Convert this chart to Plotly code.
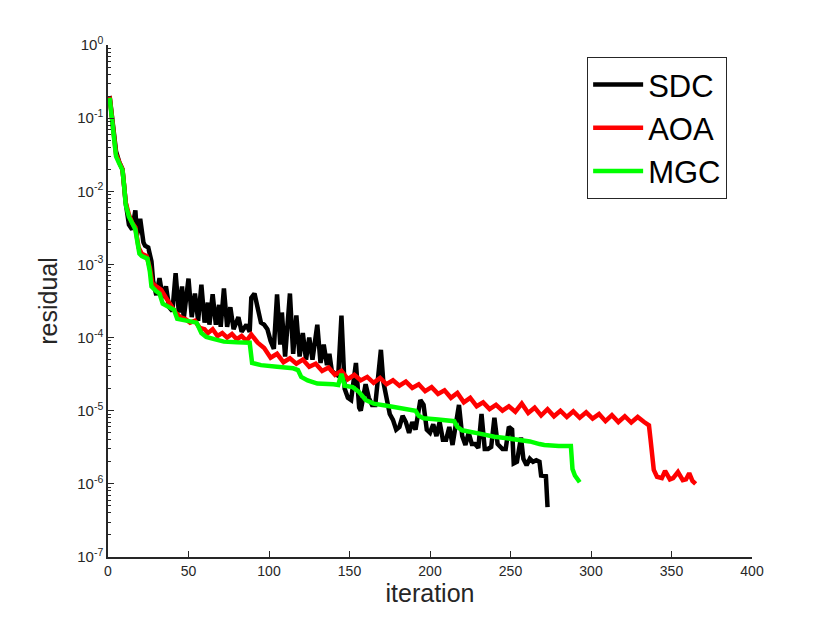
import plotly.graph_objects as go

# SDC: iteration / residual
sdc_iter = [1, 3, 5, 7, 9, 11, 13, 15, 17, 18, 20, 22, 23, 25, 27, 28, 30, 32, 34, 36,
            38, 40, 42, 44, 46, 47, 50, 52, 54, 56, 58, 60, 62, 63, 65, 67, 69, 70, 72, 74,
            76, 78, 81, 83, 86, 88, 89, 91, 93, 95, 97, 99, 101, 103, 105, 107, 108, 110, 113, 115,
            117, 119, 121, 123, 125, 127, 130, 132, 134, 136, 137.5, 139, 141, 143, 145, 147, 149, 151, 154, 156,
            157, 160, 162, 164, 166, 168, 169.5, 171, 173, 175, 177, 179, 181, 183, 185, 187, 189, 191, 194, 196,
            198, 200, 202, 204, 206, 208, 210, 212, 214, 216, 218, 220, 222, 224, 226, 228, 230, 232, 234, 236,
            238, 240, 242, 245, 247, 249, 251, 252, 254, 256.5, 258, 260, 262, 264, 266, 268, 269, 272, 273]
sdc_res = [0.2, 0.08, 0.035, 0.025, 0.02, 0.007, 0.0035, 0.003, 0.0055, 0.0025, 0.0042, 0.002, 0.0018, 0.0017, 0.0011, 6e-4, 3.8e-4, 6.5e-4, 3.5e-4, 5e-4,
           2.6e-4, 2.3e-4, 7.6e-4, 2.2e-4, 5e-4, 1.8e-4, 6.4e-4, 1.9e-4, 4e-4, 1.7e-4, 5.3e-4, 1.6e-4, 3e-4, 1.5e-4, 3.9e-4, 1.5e-4, 2.8e-4, 1.4e-4, 4.7e-4, 1.4e-4,
           2.6e-4, 1.3e-4, 1.9e-4, 1.2e-4, 1.5e-4, 1.2e-4, 3.5e-4, 4.0e-4, 2.6e-4, 1.6e-4, 1.5e-4, 1.3e-4, 9e-5, 7e-5, 3.9e-4, 8e-5, 2.2e-4, 5.5e-5, 4e-4, 6e-5,
           2e-4, 5.5e-5, 1.15e-4, 5e-5, 1.0e-4, 5e-5, 1.5e-4, 4.5e-5, 8e-5, 4.2e-5, 6e-5, 3.5e-5, 3.2e-5, 3e-5, 2.0e-4, 2e-5, 1.5e-5, 1.4e-5, 4.5e-5, 1.1e-5,
           1.0e-5, 2.3e-5, 1.5e-5, 1.2e-5, 1.2e-5, 3e-5, 6.8e-5, 2.5e-5, 1.6e-5, 9e-6, 7.5e-6, 5.5e-6, 6e-6, 8.5e-6, 7e-6, 5e-6, 7e-6, 5.5e-6, 1.4e-5, 1.2e-5,
           5.5e-6, 5e-6, 6.5e-6, 4.5e-6, 7e-6, 4e-6, 4e-6, 6e-6, 3.4e-6, 6e-6, 1.2e-5, 4.5e-6, 3.4e-6, 5e-6, 3.5e-6, 3.5e-6, 3.1e-6, 9e-6, 3e-6, 3e-6,
           3.2e-6, 8e-6, 3.5e-6, 3.0e-6, 3e-6, 6e-6, 5.5e-6, 1.9e-6, 2e-6, 4.3e-6, 2.2e-6, 1.8e-6, 2.2e-6, 2.0e-6, 2.1e-6, 2.0e-6, 1.3e-6, 1.27e-6, 4.8e-7]

# AOA: iteration / residual
aoa_iter = [1, 3, 5, 7, 9, 10, 11, 13, 15, 17, 19, 21, 24, 26, 27.5, 30, 33, 36, 39, 42,
            45, 48, 51, 54, 57, 60, 62, 65, 68, 71, 74, 77, 80, 83, 86, 89, 93, 97, 101, 105,
            109, 113, 117, 121, 125, 129, 133, 137, 141, 145, 149, 153, 157, 161, 165, 169, 173, 177, 181, 185,
            189, 193, 197, 201, 205, 209, 213, 217, 221, 225, 229, 233, 237, 241, 245, 249, 253, 257, 261, 265,
            269, 273, 277, 281, 285, 289, 293, 297, 301, 305, 309, 313, 317, 321, 325, 329, 333, 336, 337, 338,
            339, 341, 344, 346, 349, 351, 354, 357, 359, 361, 363, 365]
aoa_res = [0.2, 0.075, 0.032, 0.025, 0.02, 0.012, 0.007, 0.0048, 0.0037, 0.0032, 0.0017, 0.0014, 0.0013, 9e-4, 5.5e-4, 5e-4, 4.5e-4, 3.5e-4, 2.8e-4, 2.2e-4,
           1.9e-4, 1.8e-4, 1.6e-4, 1.7e-4, 1.35e-4, 1.3e-4, 1.15e-4, 1.3e-4, 1.05e-4, 1.15e-4, 1.0e-4, 1.12e-4, 9.5e-5, 1.05e-4, 9e-5, 1.1e-4, 8.5e-5, 7.2e-5, 5.3e-5, 6.0e-5,
           4.6e-5, 5.2e-5, 4.4e-5, 5.0e-5, 4.0e-5, 4.4e-5, 3.5e-5, 3.9e-5, 3.1e-5, 3.5e-5, 2.7e-5, 3.1e-5, 2.6e-5, 2.9e-5, 2.4e-5, 2.8e-5, 2.3e-5, 2.6e-5, 2.2e-5, 2.5e-5,
           2.05e-5, 2.3e-5, 1.85e-5, 2.1e-5, 1.7e-5, 1.9e-5, 1.5e-5, 1.75e-5, 1.3e-5, 1.5e-5, 1.15e-5, 1.3e-5, 1.05e-5, 1.2e-5, 1.0e-5, 1.15e-5, 9.7e-6, 1.25e-5, 9.3e-6, 1.1e-5,
           8.6e-6, 1.05e-5, 8.4e-6, 1.0e-5, 8.2e-6, 9.8e-6, 8.0e-6, 9.5e-6, 7.8e-6, 9.0e-6, 7.2e-6, 8.7e-6, 7.0e-6, 8.4e-6, 6.9e-6, 8.2e-6, 7.0e-6, 6.3e-6, 4.0e-6, 2.5e-6,
           1.55e-6, 1.25e-6, 1.2e-6, 1.5e-6, 1.15e-6, 1.2e-6, 1.45e-6, 1.12e-6, 1.15e-6, 1.4e-6, 1.1e-6, 1.0e-6]

# MGC: iteration / residual
mgc_iter = [1, 3, 5, 7, 9, 10, 11, 13, 15, 17, 18, 19.5, 21, 24.5, 26, 27, 30, 32, 34, 38,
            41, 43, 48, 55, 58, 61, 66, 72, 80, 88, 89.5, 95, 105, 115, 118, 120, 124, 130, 140, 143,
            145, 147, 152, 156, 160, 165, 175, 185, 191, 193, 196, 205, 215, 217, 220, 230, 240, 248, 256, 262,
            268, 271, 280, 287.5, 288.5, 290, 293]
mgc_res = [0.19, 0.07, 0.03, 0.024, 0.0195, 0.012, 0.0065, 0.0045, 0.0036, 0.003, 0.0022, 0.0014, 0.0013, 0.0012, 8e-4, 5e-4, 4.3e-4, 4e-4, 2.9e-4, 2.6e-4,
           2.4e-4, 1.8e-4, 1.7e-4, 1.6e-4, 1.15e-4, 1.02e-4, 9.5e-5, 8.8e-5, 8.6e-5, 8.5e-5, 4.5e-5, 4.2e-5, 4.0e-5, 3.8e-5, 3.6e-5, 2.9e-5, 2.6e-5, 2.35e-5, 2.3e-5, 2.25e-5,
           3.2e-5, 2.2e-5, 2.1e-5, 1.8e-5, 1.4e-5, 1.25e-5, 1.15e-5, 1.05e-5, 1.0e-5, 8.5e-6, 7.9e-6, 7.6e-6, 7.2e-6, 6e-6, 5.4e-6, 4.9e-6, 4.4e-6, 4.2e-6, 4.0e-6, 3.8e-6,
           3.5e-6, 3.4e-6, 3.3e-6, 3.3e-6, 1.6e-6, 1.3e-6, 1.05e-6]

x_ticks = [0, 50, 100, 150, 200, 250, 300, 350, 400]
y_ticks = [1e0, 1e-1, 1e-2, 1e-3, 1e-4, 1e-5, 1e-6, 1e-7]
y_ticktext = ["10<sup>0</sup>", "10<sup>-1</sup>", "10<sup>-2</sup>", "10<sup>-3</sup>",
              "10<sup>-4</sup>", "10<sup>-5</sup>", "10<sup>-6</sup>", "10<sup>-7</sup>"]
y_minor = [m * 10.0 ** e for e in range(-7, 0) for m in range(2, 10)]

fig = go.Figure()
fig.add_trace(go.Scatter(x=sdc_iter, y=sdc_res, mode="lines", name="SDC",
                         line=dict(color="#000000", width=4.5)))
fig.add_trace(go.Scatter(x=aoa_iter, y=aoa_res, mode="lines", name="AOA",
                         line=dict(color="#ff0000", width=4.5)))
fig.add_trace(go.Scatter(x=mgc_iter, y=mgc_res, mode="lines", name="MGC",
                         line=dict(color="#00ff00", width=4.5)))

font = "Liberation Sans, Arial, sans-serif"
# the page body adds an 8px margin, so the figure is a bit smaller than the window
fig.update_layout(
    width=822, height=615,
    margin=dict(l=100, r=78, t=37, b=66),
    paper_bgcolor="white", plot_bgcolor="white",
    font=dict(family=font, color="#262626"),
    showlegend=True,
    legend=dict(x=0.744, y=0.977, xanchor="left", yanchor="top",
                bgcolor="white", bordercolor="#262626", borderwidth=1,
                font=dict(size=31, color="black", family=font),
                tracegroupgap=0, itemwidth=50),
)
fig.update_xaxes(
    range=[0, 400], tickvals=x_ticks, showgrid=False, zeroline=False,
    showline=True, linecolor="#262626", linewidth=1.5, mirror=False,
    ticks="inside", ticklen=6, tickwidth=1.3, tickcolor="#262626",
    tickfont=dict(size=14, color="#262626"),
    title=dict(text="iteration", font=dict(size=25, color="#262626"), standoff=7),
    automargin=False,
)
fig.update_yaxes(
    type="log", range=[-7, 0], tickvals=y_ticks, ticktext=y_ticktext,
    showgrid=False, zeroline=False,
    showline=True, linecolor="#262626", linewidth=1.5, mirror=False,
    ticks="inside", ticklen=6, tickwidth=1.3, tickcolor="#262626",
    tickfont=dict(size=15, color="#262626"),
    minor=dict(tickvals=y_minor, ticks="inside", ticklen=3, tickwidth=1, tickcolor="#262626"),
    title=dict(text="residual", font=dict(size=25, color="#262626"), standoff=12),
    automargin=False,
)

fig.write_html("out.html")
